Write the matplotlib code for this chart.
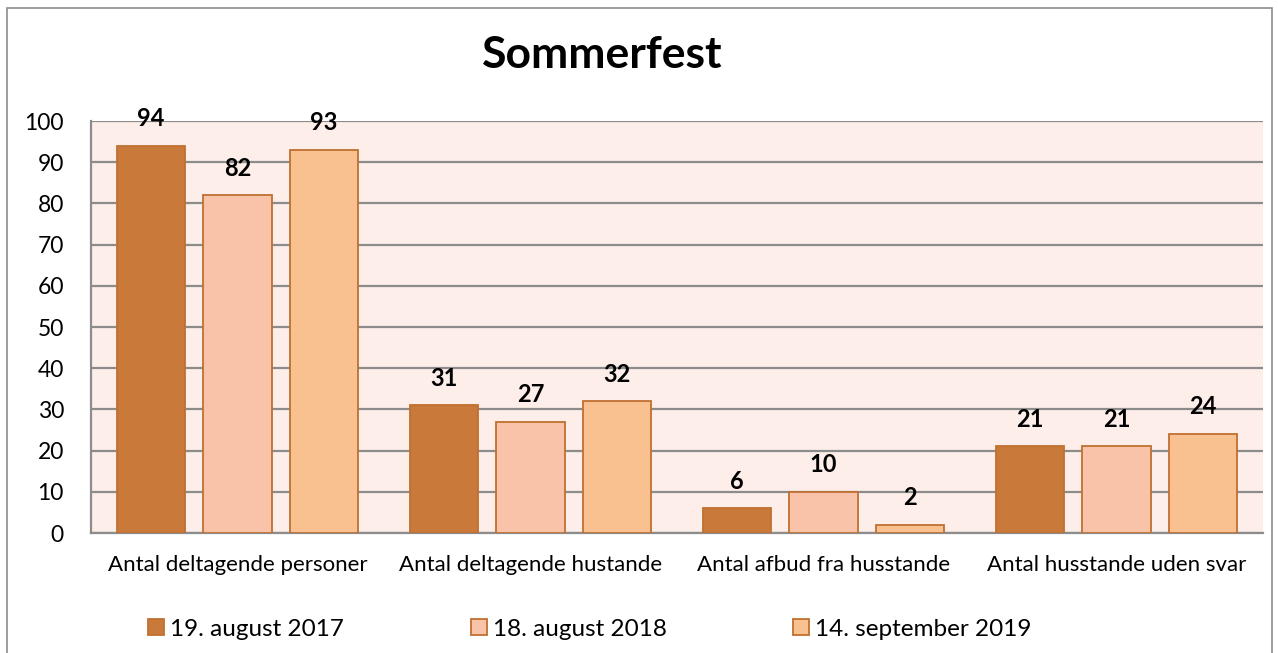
import matplotlib.pyplot as plt
import numpy as np
from matplotlib.patches import Rectangle

categories = ["Antal deltagende personer", "Antal deltagende hustande",
              "Antal afbud fra husstande", "Antal husstande uden svar"]
series_names = ["19. august 2017", "18. august 2018", "14. september 2019"]
v2017 = [94, 31, 6, 21]
v2018 = [82, 27, 10, 21]
v2019 = [93, 32, 2, 24]
colors = ["#C97A3A", "#F9C3AA", "#F9C18F"]
edge = "#C07030"

plt.rcParams['font.family'] = ['Lato', 'DejaVu Sans']

fig = plt.figure(figsize=(12.78, 6.53), dpi=100)
# outer frame
fig.patches.append(Rectangle((7/1278, -0.05), (1272-7)/1278, (653-8)/653 + 0.05,
                             transform=fig.transFigure, fill=False,
                             edgecolor="#8C8C8C", linewidth=1.2))

ax = fig.add_axes([91/1278, 1-533/653, (1263-91)/1278, (533-121)/653])
ax.set_facecolor("#FDEEE9")
x = np.arange(len(categories))
w = 0.235
off = 0.295
for i, (vals, c, name) in enumerate(zip([v2017, v2018, v2019], colors, series_names)):
    bars = ax.bar(x + (i - 1) * off, vals, w, color=c, edgecolor=edge, linewidth=1.3,
                  label=name, zorder=3)
    for b, v in zip(bars, vals):
        ax.text(b.get_x() + b.get_width() / 2, v + 3.8, str(v), ha='center', va='bottom',
                fontsize=17, fontweight='bold', zorder=4)

ax.set_xlim(-0.5, 3.5)
ax.set_ylim(0, 100)
ax.set_yticks(range(0, 101, 10))
ax.yaxis.grid(True, color="#8C8C8C", linewidth=1.6, zorder=1)
ax.set_axisbelow(True)
for s in ['top', 'right']:
    ax.spines[s].set_visible(False)
ax.spines['left'].set_color("#8C8C8C")
ax.spines['bottom'].set_color("#8C8C8C")
ax.spines['left'].set_linewidth(1.6)
ax.spines['bottom'].set_linewidth(1.6)
ax.set_xticks(x)
ax.set_xticklabels(categories, fontsize=16)
ax.tick_params(axis='x', length=0, pad=16)
ax.tick_params(axis='y', length=0, pad=19.5, labelsize=16.5)

fig.text(602/1278, 1-55/653, "Sommerfest", ha='center', va='center',
         fontsize=32, fontweight='bold')

leg = fig.legend(loc='center', bbox_to_anchor=(590/1278, 1-629/653), ncol=3,
                 frameon=False, fontsize=17.5, handlelength=0.66, handleheight=0.66,
                 handletextpad=0.25, columnspacing=5.2)

fig.savefig("out.png", dpi=100)
